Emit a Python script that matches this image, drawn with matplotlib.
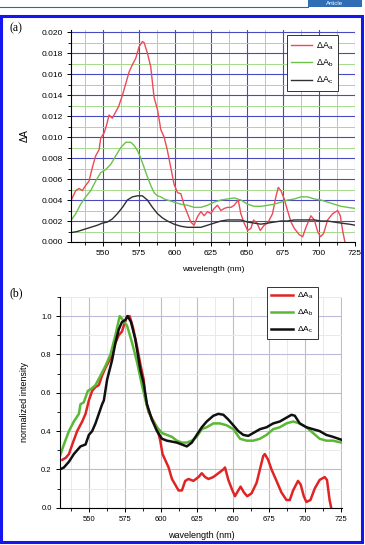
import matplotlib
matplotlib.use("Agg")
import matplotlib.pyplot as plt
from matplotlib.ticker import MultipleLocator, FormatStrFormatter
from matplotlib.patches import Rectangle
from matplotlib.lines import Line2D

# ---------------- data: panel (a) ----------------
a_red_x = [528.2, 531.3, 533.6, 535.9, 538.2, 540.5, 542.8, 545.1, 547.5, 548.6, 551.0, 552.8, 554.4,
           556.7, 559.0, 561.0, 563.7, 566.0, 568.3, 570.6, 572.9, 575.2, 577.5, 578.7, 581.0, 583.3,
           585.6, 588.0, 590.3, 592.6, 594.9, 597.2, 599.5, 601.9, 604.2, 606.5, 608.8, 611.1, 613.4,
           615.7, 618.1, 620.4, 622.7, 625.0, 627.3, 629.6, 632.0, 634.3, 636.6, 638.9, 641.2, 644.0,
           645.8, 648.1, 650.5, 652.8, 654.6, 657.0, 659.3, 662.0, 664.4, 667.8, 670.1, 671.8, 673.6,
           675.9, 678.2, 680.6, 682.9, 686.3, 688.7, 691.0, 694.4, 696.8, 699.1, 701.0, 703.2, 706.0,
           709.5, 713.0, 714.8, 716.4, 718.0]
a_red_y = [0.0040, 0.0049, 0.0051, 0.0049, 0.0054, 0.0058, 0.0071, 0.0082, 0.0088, 0.0099, 0.0104, 0.0112,
           0.0121, 0.0118, 0.0124, 0.0129, 0.0140, 0.0151, 0.0162, 0.0169, 0.0175, 0.0186, 0.0191, 0.0190,
           0.0180, 0.0167, 0.0138, 0.0126, 0.0107, 0.0100, 0.0087, 0.0071, 0.0055, 0.0047, 0.0046, 0.0035,
           0.0027, 0.0019, 0.0016, 0.0024, 0.0029, 0.0025, 0.0029, 0.0027, 0.0032, 0.0035, 0.0030, 0.0032,
           0.0033, 0.0033, 0.0035, 0.0040, 0.0027, 0.0018, 0.0011, 0.0013, 0.0021, 0.0018, 0.0011, 0.0016,
           0.0018, 0.0027, 0.0043, 0.0052, 0.0049, 0.0041, 0.0030, 0.0019, 0.0013, 0.0007, 0.0005, 0.0014,
           0.0025, 0.0021, 0.0010, 0.0005, 0.0008, 0.0021, 0.0027, 0.0030, 0.0025, 0.0011, 0.0000]

a_green_x = [528.2, 531.3, 534.7, 538.2, 541.7, 545.1, 548.6, 552.0, 555.6, 559.0, 562.5, 566.0, 569.4,
             571.8, 574.1, 576.4, 578.7, 581.0, 583.3, 585.6, 588.0, 590.3, 592.6, 594.9, 599.5, 604.2,
             608.8, 613.4, 618.1, 622.7, 627.3, 632.0, 636.6, 641.2, 645.8, 650.5, 655.1, 659.7, 664.4,
             669.0, 673.6, 678.2, 682.9, 687.5, 692.1, 696.8, 701.4, 706.0, 710.6, 715.3, 719.9, 725.0]
a_green_y = [0.0021, 0.0027, 0.0036, 0.0043, 0.0049, 0.0058, 0.0066, 0.0069, 0.0074, 0.0082, 0.0090, 0.0095,
             0.0095, 0.0092, 0.0087, 0.0080, 0.0071, 0.0062, 0.0054, 0.0047, 0.0044, 0.0043, 0.0041, 0.0040,
             0.0038, 0.0036, 0.0035, 0.0033, 0.0033, 0.0035, 0.0038, 0.0040, 0.0041, 0.0042, 0.0040, 0.0036,
             0.0034, 0.0034, 0.0035, 0.0036, 0.0038, 0.0040, 0.0041, 0.0043, 0.0043, 0.0041, 0.0040, 0.0038,
             0.0036, 0.0034, 0.0033, 0.0032]

a_black_x = [528.2, 532.4, 537.0, 541.7, 546.3, 549.8, 553.2, 556.7, 560.2, 563.7, 567.1, 570.6, 574.1,
             577.5, 581.0, 584.5, 588.0, 591.4, 594.9, 599.5, 604.2, 608.8, 613.4, 618.1, 622.7, 627.3,
             632.0, 636.6, 641.2, 645.8, 650.5, 655.1, 659.7, 664.4, 669.0, 673.6, 678.2, 682.9, 687.5,
             692.1, 696.8, 701.4, 706.0, 710.6, 715.3, 721.0, 725.0]
a_black_y = [0.0009, 0.0010, 0.0012, 0.0014, 0.0016, 0.0018, 0.0019, 0.0022, 0.0027, 0.0033, 0.0040, 0.0043,
             0.0044, 0.0044, 0.0040, 0.0033, 0.0027, 0.0023, 0.0020, 0.0017, 0.0015, 0.0014, 0.0014, 0.0014,
             0.0016, 0.0018, 0.0020, 0.0021, 0.0021, 0.0021, 0.0019, 0.0018, 0.0017, 0.0018, 0.0019, 0.0020,
             0.0020, 0.0021, 0.0021, 0.0021, 0.0021, 0.0020, 0.0020, 0.0019, 0.0018, 0.0017, 0.0016]

# ---------------- data: panel (b) ----------------
b_red_x = [531.6, 533.9, 536.2, 538.5, 541.9, 545.4, 547.7, 550.0, 552.3, 554.6, 556.9, 559.2, 561.5,
           565.0, 568.4, 570.7, 573.0, 574.6, 576.5, 578.3, 580.6, 583.4, 585.7, 588.0, 589.0, 591.4,
           594.9, 597.2, 599.5, 601.1, 602.9, 605.3, 607.6, 609.9, 612.2, 614.5, 616.8, 619.1, 622.5,
           626.0, 628.3, 630.6, 632.9, 636.3, 639.8, 643.3, 644.4, 646.7, 649.0, 651.3, 653.6, 655.2,
           657.5, 659.8, 662.8, 666.3, 668.6, 670.9, 672.0, 674.3, 676.6, 680.1, 683.5, 687.0, 689.3,
           691.6, 695.0, 696.9, 699.0, 700.8, 703.6, 706.6, 710.0, 713.5, 715.1, 716.9, 718.0]
b_red_y = [0.25, 0.26, 0.28, 0.33, 0.40, 0.45, 0.49, 0.56, 0.61, 0.63, 0.64, 0.69, 0.73,
           0.78, 0.86, 0.90, 0.92, 0.96, 1.00, 1.00, 0.94, 0.84, 0.75, 0.67, 0.58, 0.50,
           0.45, 0.42, 0.35, 0.28, 0.25, 0.21, 0.15, 0.12, 0.09, 0.09, 0.14, 0.15, 0.14,
           0.16, 0.18, 0.16, 0.15, 0.16, 0.18, 0.20, 0.21, 0.145, 0.10, 0.06, 0.09, 0.11,
           0.08, 0.06, 0.075, 0.13, 0.20, 0.27, 0.28, 0.25, 0.20, 0.14, 0.08, 0.04, 0.04,
           0.09, 0.14, 0.12, 0.06, 0.03, 0.04, 0.10, 0.145, 0.16, 0.145, 0.04, 0.0]

b_green_x = [530.0, 532.7, 536.2, 539.6, 543.1, 544.2, 546.5, 549.3, 551.6, 554.6, 558.1, 561.5, 565.0,
             568.4, 571.4, 573.7, 576.5, 580.0, 583.4, 586.8, 590.3, 593.7, 597.2, 600.7, 604.1, 607.6,
             611.0, 614.5, 617.9, 621.4, 624.8, 628.3, 631.7, 636.3, 640.9, 645.6, 650.2, 654.8, 659.4,
             664.0, 668.6, 673.2, 677.8, 682.4, 687.0, 691.6, 696.2, 700.8, 705.4, 710.0, 714.6, 719.2, 725.0]
b_green_y = [0.27, 0.33, 0.40, 0.45, 0.49, 0.54, 0.55, 0.61, 0.62, 0.64, 0.69, 0.74, 0.80,
             0.90, 1.00, 0.98, 0.95, 0.86, 0.76, 0.64, 0.53, 0.46, 0.42, 0.39, 0.38, 0.37,
             0.35, 0.34, 0.34, 0.35, 0.37, 0.41, 0.42, 0.44, 0.44, 0.43, 0.41, 0.36, 0.35,
             0.35, 0.36, 0.38, 0.41, 0.42, 0.44, 0.45, 0.44, 0.42, 0.39, 0.36, 0.35, 0.35, 0.34]

b_black_x = [530.0, 532.7, 536.2, 539.6, 544.2, 547.7, 550.0, 552.3, 554.6, 556.9, 559.2, 560.4, 562.7,
             566.1, 568.4, 570.7, 573.0, 575.3, 576.9, 579.2, 582.2, 585.7, 588.0, 590.3, 593.7, 597.2,
             600.7, 604.1, 607.6, 611.0, 614.5, 617.9, 621.4, 624.8, 628.3, 631.7, 636.3, 639.8, 643.3,
             646.7, 650.2, 653.6, 657.1, 660.5, 664.0, 668.6, 673.2, 677.8, 682.4, 687.0, 690.5, 692.8,
             696.2, 700.8, 705.4, 710.0, 714.6, 719.2, 725.0]
b_black_y = [0.20, 0.21, 0.24, 0.28, 0.32, 0.33, 0.38, 0.40, 0.44, 0.49, 0.54, 0.56, 0.67,
             0.77, 0.86, 0.93, 0.97, 0.98, 1.00, 0.97, 0.88, 0.72, 0.65, 0.54, 0.46, 0.40,
             0.36, 0.35, 0.345, 0.34, 0.33, 0.32, 0.34, 0.38, 0.42, 0.45, 0.48, 0.49, 0.485,
             0.46, 0.43, 0.40, 0.38, 0.375, 0.39, 0.41, 0.42, 0.44, 0.45, 0.47, 0.485, 0.48,
             0.44, 0.42, 0.41, 0.40, 0.38, 0.37, 0.355]

labels = [r"$\Delta$A$_{\mathrm{a}}$", r"$\Delta$A$_{\mathrm{b}}$", r"$\Delta$A$_{\mathrm{c}}$"]
x_ticks = [550, 575, 600, 625, 650, 675, 700, 725]

plt.rcParams['font.family'] = ['Liberation Sans', 'DejaVu Sans']
plt.rcParams['mathtext.fontset'] = 'custom'
plt.rcParams['mathtext.rm'] = 'Liberation Sans'
plt.rcParams['mathtext.it'] = 'Liberation Sans'

W, H = 365, 545
fig = plt.figure(figsize=(W / 100, H / 100), dpi=100)

def fx(px):
    return px / W

def fy(py):
    return 1 - py / H

# header bar and frame
fig.patches.append(Rectangle((fx(308), fy(7)), fx(54), 7 / H, transform=fig.transFigure,
                             facecolor="#2f6db5", edgecolor="none"))
fig.text(fx(335), fy(3.2), "Article", color="white", fontsize=4.5, ha="center", va="center")
fig.add_artist(Line2D([fx(0), fx(308)], [fy(6.5), fy(6.5)], color="#3060c0", lw=0.8))
fig.patches.append(Rectangle((fx(1.5), fy(542)), fx(360.5), (542 - 16) / H, transform=fig.transFigure,
                             facecolor="none", edgecolor="#1515f0", lw=2.2))

# ---------------- panel (a) ----------------
ax1 = fig.add_axes([fx(71), fy(242), fx(355 - 71), (242 - 30) / H])
ax1.set_axisbelow(True)
ax1.plot(a_red_x, a_red_y, color="#ec4a55", lw=1.0, label=labels[0])
ax1.plot(a_green_x, a_green_y, color="#6cc24a", lw=1.0, label=labels[1])
ax1.plot(a_black_x, a_black_y, color="#303030", lw=1.0, label=labels[2])
ax1.set_xlim(528, 725)
ax1.set_ylim(0, 0.0202)
ax1.set_xticks(x_ticks)
ax1.xaxis.set_minor_locator(MultipleLocator(12.5))
ax1.yaxis.set_major_locator(MultipleLocator(0.002))
ax1.yaxis.set_minor_locator(MultipleLocator(0.001))
ax1.yaxis.set_major_formatter(FormatStrFormatter("%.3f"))
ax1.grid(which="major", color="#4a4ac0", lw=0.8)
ax1.grid(which="minor", color="#a6d98c", lw=0.7)
for s in ["top", "right"]:
    ax1.spines[s].set_visible(False)
for s in ["left", "bottom"]:
    ax1.spines[s].set_linewidth(0.8)
ax1.tick_params(which="major", direction="out", length=3, width=0.7, labelsize=6, pad=2.5)
ax1.tick_params(which="minor", direction="out", length=2, width=0.6)
ax1.set_xlabel("wavelength (nm)", fontsize=6, labelpad=7)
ax1.set_ylabel("ΔA", fontsize=7, labelpad=9)
leg1 = ax1.legend(loc="upper left", bbox_to_anchor=(fx(287), fy(35)), bbox_transform=fig.transFigure,
                  fontsize=6.5, frameon=True, fancybox=False, framealpha=1, edgecolor="#333333",
                  handlelength=2.3, labelspacing=0.55, borderpad=0.45, handletextpad=0.5,
                  borderaxespad=0)
leg1.get_frame().set_linewidth(0.7)
fig.text(fx(10), fy(28), "(a)", fontsize=8.5, family=["Liberation Serif", "DejaVu Serif"],
         ha="left", va="center")

# ---------------- panel (b) ----------------
ax2 = fig.add_axes([fx(60), fy(507.7), fx(342 - 60), (507.7 - 297) / H])
ax2.set_axisbelow(True)
ax2.plot(b_red_x, b_red_y, color="#e02424", lw=1.8, label=labels[0])
ax2.plot(b_green_x, b_green_y, color="#5ab834", lw=1.8, label=labels[1])
ax2.plot(b_black_x, b_black_y, color="#101010", lw=1.8, label=labels[2])
ax2.set_xlim(530, 725.5)
ax2.set_ylim(0, 1.1)
ax2.set_xticks(x_ticks)
ax2.xaxis.set_minor_locator(MultipleLocator(12.5))
ax2.yaxis.set_major_locator(MultipleLocator(0.2))
ax2.yaxis.set_minor_locator(MultipleLocator(0.1))
ax2.yaxis.set_major_formatter(FormatStrFormatter("%.1f"))
ax2.grid(which="major", color="#bcbcd8", lw=0.8)
ax2.grid(which="minor", color="#e6ebe6", lw=0.7)
for s in ["top", "right"]:
    ax2.spines[s].set_visible(False)
for s in ["left", "bottom"]:
    ax2.spines[s].set_linewidth(0.8)
ax2.tick_params(which="major", direction="out", length=3, width=0.7, labelsize=5.5, pad=3)
ax2.tick_params(which="minor", direction="out", length=2, width=0.6)
ax2.set_xlabel("wavelength (nm)", fontsize=6.5, labelpad=6)
ax2.set_ylabel("normalized intensity", fontsize=6.5, labelpad=9)
leg2 = ax2.legend(loc="upper left", bbox_to_anchor=(fx(267), fy(287)), bbox_transform=fig.transFigure,
                  fontsize=6, frameon=True, fancybox=False, framealpha=1, edgecolor="#333333",
                  handlelength=2.6, labelspacing=0.8, borderpad=0.5, handletextpad=0.5,
                  borderaxespad=0)
leg2.get_frame().set_linewidth(0.7)
fig.text(fx(9), fy(293), "(b)", fontsize=8.5, family=["Liberation Serif", "DejaVu Serif"],
         ha="left", va="center")

fig.savefig("out.png", dpi=100)
